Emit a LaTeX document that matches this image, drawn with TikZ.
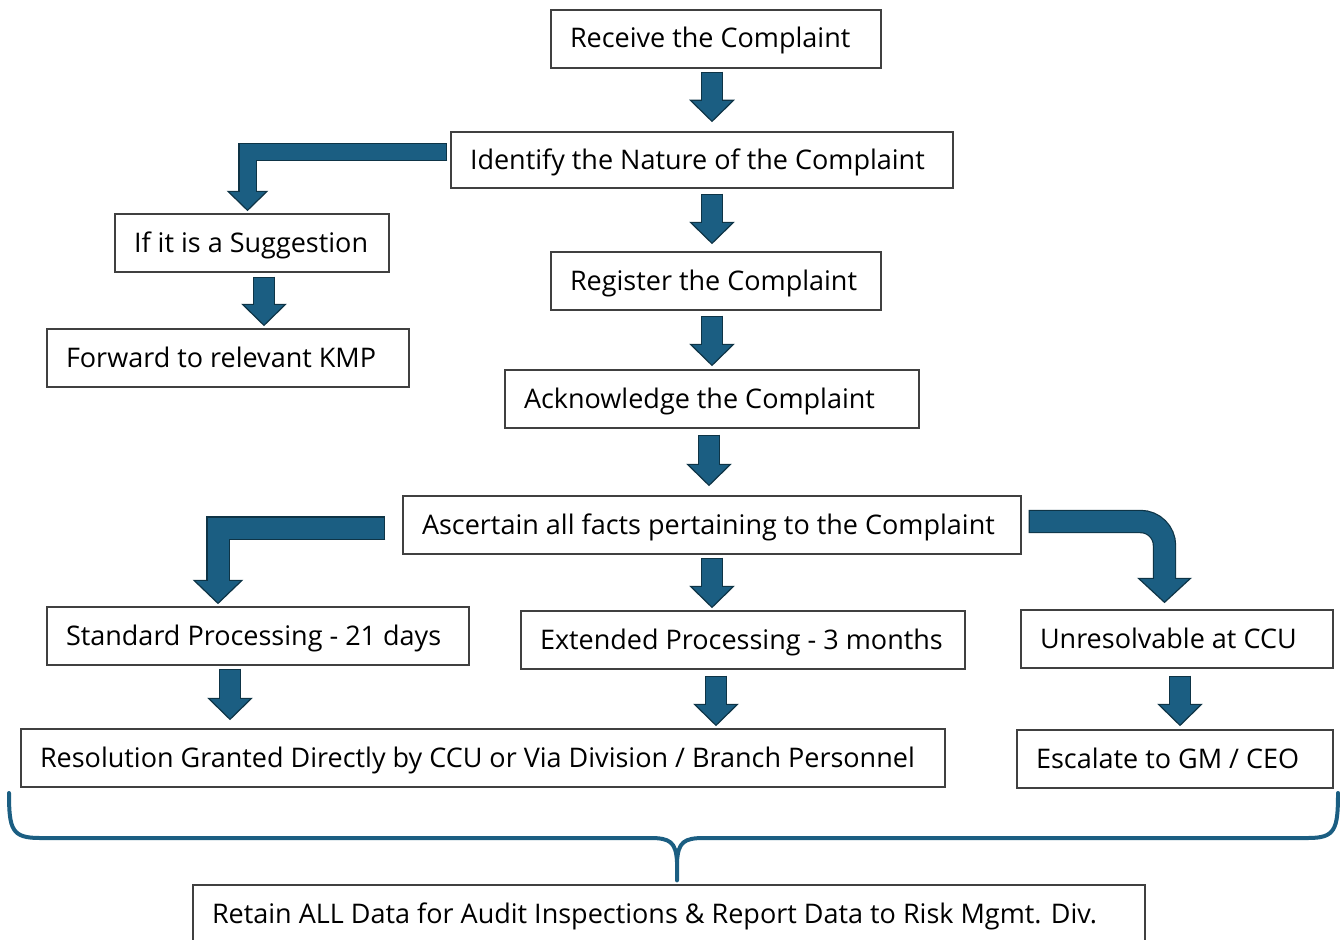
\documentclass[tikz,border=0pt]{standalone}
\usepackage{fontspec}
\setmainfont{Open Sans}
\usetikzlibrary{calc}

\definecolor{flowblue}{HTML}{1B5E82}
\definecolor{flowdark}{HTML}{0E3446}
\definecolor{boxline}{HTML}{404040}

\tikzset{
  stepbox/.style={draw=boxline, line width=1.3pt, minimum height=58pt, inner xsep=19pt, inner ysep=0pt,
    align=flush left, text height=19pt, text depth=1pt, font=\fontsize{27}{32}\selectfont},
  shaftout/.style={draw=flowdark},
  shaftin/.style={draw=flowblue},
  headfill/.style={fill=flowblue, draw=flowdark, line width=1.2pt, line join=miter},
  bracepath/.style={draw=flowblue, line width=4pt, line cap=round, line join=round}
}

% #1 shaft options, #2 shaft width, #3 head width, #4 head length, #5 path up to the head, #6 tip
\newcommand{\flowarrow}[6]{%
  \coordinate (tip) at #6;
  \coordinate (base) at ($(tip)+(0,-#4)$);
  \draw[shaftout, line width=#2+2.4pt, #1] #5 (base);
  \filldraw[headfill] (base) ++(-#3/2,0) -- ++(#3,0) -- (tip) -- cycle;
  \draw[shaftin, line width=#2, shorten <=1.2pt, shorten >=-1pt, #1] #5 (base);
}

\begin{document}
\begin{tikzpicture}[x=1pt,y=-1pt]
\useasboundingbox (0,0) rectangle (1340,939);

\node[stepbox, text width=292pt] (recv) at (716,39) {Receive the Complaint};
\node[stepbox, text width=464pt, minimum height=56pt] (ident) at (702,160) {Identify the Nature of the Complaint};
\node[stepbox, text width=236pt] (suggest) at (252,243) {If it is a Suggestion};
\node[stepbox, text width=324pt] (kmp) at (228,358) {Forward to relevant KMP};
\node[stepbox, text width=292pt] (register) at (716,281) {Register the Complaint};
\node[stepbox, text width=376pt] (ack) at (712,399) {Acknowledge the Complaint};
\node[stepbox, text width=580pt] (ascertain) at (712,525) {Ascertain all facts pertaining to the Complaint};
\node[stepbox, text width=384pt] (standard) at (258,636) {Standard Processing - 21 days};
\node[stepbox, text width=406pt] (extended) at (743,640) {Extended Processing - 3 months};
\node[stepbox, text width=274pt] (unresolv) at (1177,639) {Unresolvable at CCU};
\node[stepbox, text width=886pt] (resolution) at (483,758) {Resolution Granted Directly by CCU or Via Division / Branch Personnel};
\node[stepbox, text width=278pt] (escalate) at (1175,759) {Escalate to GM / CEO};
\node[stepbox, text width=914pt] (retain) at (669,914) {Retain ALL Data for Audit Inspections \& Report Data to Risk Mgmt. Div.};

% straight arrows
\coordinate (s1) at ($(recv.south)+(-4,3)$);
\flowarrow{}{20pt}{43}{21}{(s1) --}{($(s1 |- ident.north)+(0,-10)$)}
\coordinate (s2) at ($(ident.south)+(10,5)$);
\flowarrow{}{20pt}{43}{21}{(s2) --}{($(s2 |- register.north)+(0,-8)$)}
\coordinate (s3) at ($(suggest.south)+(12,4)$);
\flowarrow{}{20pt}{43}{21}{(s3) --}{($(s3 |- kmp.north)+(0,-3)$)}
\coordinate (s4) at ($(register.south)+(-4,5)$);
\flowarrow{}{20pt}{43}{21}{(s4) --}{($(s4 |- ack.north)+(0,-4)$)}
\coordinate (s5) at ($(ack.south)+(-3,6)$);
\flowarrow{}{20pt}{43}{21}{(s5) --}{($(s5 |- ascertain.north)+(0,-10)$)}
\coordinate (s6) at ($(ascertain.south)+(0,3)$);
\flowarrow{}{20pt}{43}{21}{(s6) --}{($(s6 |- extended.north)+(0,-3)$)}
\coordinate (s7) at ($(standard.south)+(-28,3)$);
\flowarrow{}{20pt}{43}{21}{(s7) --}{($(s7 |- resolution.north)+(0,-9)$)}
\coordinate (s8) at ($(extended.south)+(-27,6)$);
\flowarrow{}{20pt}{43}{21}{(s8) --}{($(s8 |- resolution.north)+(0,-3)$)}
\coordinate (s9) at ($(unresolv.south)+(3,7)$);
\flowarrow{}{20pt}{43}{21}{(s9) --}{($(s9 |- escalate.north)+(0,-4)$)}

% bent arrows
\coordinate (sa) at ($(ident.west)+(-3,-8)$);
\flowarrow{line join=miter}{16pt}{39}{19}{(sa) -|}{($(suggest.north)+(-4.5,-3)$)}
\coordinate (sb) at ($(ascertain.west)+(-17,3)$);
\flowarrow{line join=miter}{21pt}{48}{23}{(sb) -|}{($(standard.north)+(-40,-3)$)}
\coordinate (sc) at ($(ascertain.east)+(7,-3.5)$);
\flowarrow{rounded corners=24pt}{21pt}{52}{24}{(sc) -|}{($(unresolv.north)+(-12.5,-7)$)}

% brace over the last row
\coordinate (braceL) at (9,793);
\coordinate (braceR) at (1338,793);
\coordinate (braceM) at ($(retain.north)+(8,-4)$);
\draw[bracepath] (braceL) .. controls (9,830) and (12,838) .. (40,838) -- (650,838)
  .. controls (670,838) and (676,842) .. (677,862) -- (braceM);
\draw[bracepath] (braceR) .. controls (1338,830) and (1335,838) .. (1308,838) -- (704,838)
  .. controls (684,838) and (678,842) .. (677,862);
\end{tikzpicture}
\end{document}
